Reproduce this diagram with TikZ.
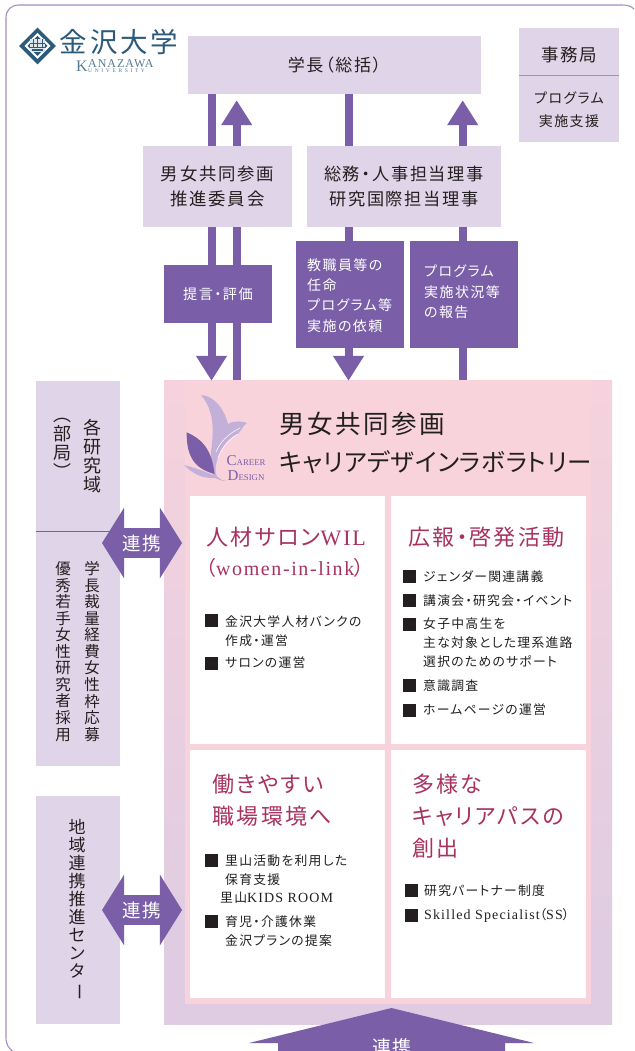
\documentclass[tikz,border=0pt]{standalone}
\usepackage{fontspec}
\usetikzlibrary{arrows.meta,shapes.arrows,shapes.geometric}
\newfontfamily\jp{Noto Sans CJK JP}[RawFeature=+palt]
\newfontfamily\jpt{Noto Sans CJK JP}[RawFeature=+palt,LetterSpace=2.5]
\newfontfamily\jpw{Noto Sans CJK JP}[RawFeature=+palt,LetterSpace=10]
\newfontfamily\jpv{Noto Sans CJK JP}
\newfontfamily\lat{Liberation Serif}
\newfontfamily\latw{Liberation Serif}[LetterSpace=8]
\newfontfamily\laty{Liberation Serif}[LetterSpace=48]
\definecolor{lav}{HTML}{E0D5E8}
\definecolor{labb}{HTML}{DFCCE2}
\definecolor{pnk}{HTML}{F8D3DC}
\definecolor{purp}{HTML}{7A5FA8}
\definecolor{frm}{HTML}{A48CC6}
\definecolor{ink}{HTML}{231F20}
\definecolor{hd}{HTML}{A8325F}
\definecolor{navy}{HTML}{2C5A7A}
\definecolor{lite}{HTML}{C2B0D8}
\pgfdeclareverticalshading{labshade}{100bp}{color(0bp)=(labb); color(30bp)=(labb); color(80bp)=(pnk); color(100bp)=(pnk)}
\pgfdeclarelayer{back}\pgfdeclarelayer{links}\pgfsetlayers{back,links,main}
\newcounter{tc}
\newcommand\tn[4][]{\stepcounter{tc}\node[item,#1] (t\thetc) at (#2,#3) {#4};}
\newcommand\bul[2]{\stepcounter{tc}\node[bulbox] (t\thetc) at (#1,#2) {};}
\newcommand\dn{\rotatebox[origin=c]{-90}{ー}}
\newcommand\ltn[1]{{\latw\fontsize{14}{19}\selectfont #1}}
\tikzset{
 x=1pt,y=-1pt,
 box/.style={fill=lav,inner sep=0,text=ink,align=center},
 darkbox/.style={fill=purp,inner sep=0,text=white,align=center},
 whitebox/.style={fill=white,inner sep=0},
 item/.style={anchor=west,inner sep=0,text=ink,align=left},
 small/.style={font=\jpw\fontsize{12.8}{19}\selectfont},
 head/.style={text=hd,font=\jpw\fontsize{22}{32}\selectfont},
 vert/.style={anchor=center,inner sep=0,text=ink,align=center},
 bulbox/.style={fill=ink,inner sep=0,minimum size=13pt},
 arr/.style={line width=8pt,draw=purp,-{Triangle[width=29.4pt,length=25pt]}},
 dbl/.style={double arrow,fill=purp,text=white,inner sep=0,minimum height=80pt,minimum width=71pt,
   double arrow head extend=12pt,double arrow tip angle=116,font=\jpw\fontsize{18.5}{20}\selectfont},
}
\begin{document}
\begin{tikzpicture}
\useasboundingbox (0,0) rectangle (634,1051);
\begin{pgfonlayer}{back}
\fill[white] (0,0) rectangle (634,1051);
\node[shading=labshade,inner sep=0,minimum width=448pt,minimum height=644pt] (lab) at (388,702) {};
\node[fill=pnk,inner sep=0,minimum width=406pt,minimum height=624pt] (panel) at (388,692) {};
\end{pgfonlayer}
% frame
\draw[frm,line width=1.1pt] (14,1052) .. controls (9,1049) and (6,1045) .. (6,1037) -- (6,18)
  .. controls (6,10) and (11,5) .. (19,5) -- (622,5) .. controls (627,5) and (631,6) .. (634,9);
% logo
\node[diamond,fill=navy,inner sep=0,minimum size=37pt] (emblem) at (37.5,46) {};
\fill[white] (37.5,33) -- (50.5,46) -- (37.5,59) -- (24.5,46) -- cycle;
\fill[navy] (37.5,36) -- (47.5,46) -- (37.5,56) -- (27.5,46) -- cycle;
\fill[white!85!navy] (30,39.5) rectangle (45,52.5);
\draw[navy,line width=.8pt] (33,39.5) -- (33,47) (37.5,39.5) -- (37.5,47) (42,39.5) -- (42,47) (30,43) -- (45,43) (30,47) -- (45,47);
\fill[navy] (32,49) rectangle (43,51);
\node[inner sep=0,text=navy,font=\jpw\fontsize{27.5}{28}\selectfont] (uname) at (119,42) {金沢大学};
\node[inner sep=0,text=navy!80,anchor=west,font=\lat\fontsize{16}{16}\selectfont] (uk) at (76,66) {K};
\node[inner sep=0,text=navy!80,anchor=west,font=\latw\fontsize{12}{12}\selectfont] (ua) at (88,64) {ANAZAWA};
\node[inner sep=0,text=navy!80,anchor=west,font=\laty\fontsize{5.5}{6}\selectfont] (uu) at (88,71) {UNIVERSITY};
% main boxes
\node[box,minimum width=293pt,minimum height=58pt,font=\jpw\fontsize{17}{20}\selectfont] (pres) at (334.5,65) {学長（総括）};
\node[box,minimum width=100pt,minimum height=114pt] (office) at (569,85) {};
\draw[frm,line width=1pt] (office.west |- 0,76) -- (office.east |- 0,76);
\node[inner sep=0,text=ink,font=\jpw\fontsize{17.5}{20}\selectfont] (office1) at (569,55) {事務局};
\node[inner sep=0,text=ink,align=center,font=\jpw\fontsize{14}{23}\selectfont] (office2) at (569,109.5) {プログラム\\実施支援};
\node[box,minimum width=149pt,minimum height=81pt,font=\jpw\fontsize{17.4}{25}\selectfont] (comm) at (217.5,186.5) {男女共同参画\\推進委員会};
\node[box,minimum width=194pt,minimum height=81pt,font=\jpw\fontsize{17.2}{25}\selectfont] (dirs) at (404,186.5) {総務・人事担当理事\\研究国際担当理事};
\node[darkbox,minimum width=108pt,minimum height=58pt,font=\jpw\fontsize{14.2}{20}\selectfont] (eval) at (218,294) {提言・評価};
\node[darkbox,minimum width=108pt,minimum height=107pt] (req) at (350,294.5) {};
\node[darkbox,minimum width=108pt,minimum height=107pt] (rep) at (464,294.5) {};
\node[anchor=west,inner sep=0,text=white,align=left,font=\jpw\fontsize{14}{20.2}\selectfont] (reqt) at (307,295.5) {教職員等の\\任命\\プログラム等\\実施の依頼};
\node[anchor=west,inner sep=0,text=white,align=left,font=\jpw\fontsize{14}{20.3}\selectfont] (rept) at (424,292) {プログラム\\実施状況等\\の報告};
% connectors
\coordinate (xa) at (211.5,0);
\coordinate (xb) at (236.7,0);
\coordinate (xc) at (348.5,0);
\coordinate (xd) at (462.7,0);
\begin{pgfonlayer}{links}
\draw[arr,shorten >=-1pt] (pres.south -| xa) -- (lab.north -| xa);
\draw[arr,shorten >=6pt] (lab.north -| xb) -- (pres.south -| xb);
\draw[arr,shorten >=-1pt] (pres.south -| xc) -- (lab.north -| xc);
\draw[arr,shorten >=6pt] (lab.north -| xd) -- (pres.south -| xd);
\end{pgfonlayer}
% career design logo
\fill[lite] (201,395) .. controls (214,396) and (224,408) .. (228,424) .. controls (230,422) and (240,420) .. (247,423)
  .. controls (240,428) and (243,432) .. (233,437) .. controls (226,441) and (218,452) .. (216,465)
  .. controls (214,476) and (218,480) .. (227,481) .. controls (216,481) and (210,476) .. (210,462)
  .. controls (212,440) and (218,415) .. (201,395) -- cycle;
\fill[lite] (184,465) .. controls (195,468) and (205,471) .. (219,478) .. controls (205,479) and (195,476) .. (184,465) -- cycle;
\fill[purp] (186.7,432.3) .. controls (200,438) and (212,448) .. (214.5,474) .. controls (200,470) and (186,462) .. (186.7,432.3) -- cycle;
\draw[white,line width=.5pt] (216,452) .. controls (220,442) and (228,434) .. (240,428) (218,458) .. controls (222,447) and (230,438) .. (238,434);
\node[inner sep=0,anchor=west,text=purp,font=\lat\fontsize{8.8}{10}\selectfont] (cd1) at (226.5,460.5) {{\fontsize{15}{15}\selectfont C}AREER};
\node[inner sep=0,anchor=west,text=purp,font=\lat\fontsize{8.8}{10}\selectfont] (cd2) at (227.5,476) {{\fontsize{15}{15}\selectfont D}ESIGN};
% lab title
\node[item,font=\jpw\fontsize{25.5}{38}\selectfont] (title1) at (279,424) {男女共同参画};
\node[item,font=\jpt\fontsize{24.5}{38}\selectfont] (title2) at (279,462) {キャリアデザインラボラトリー};
% white panels
\node[whitebox,minimum width=195pt,minimum height=248pt] (p1) at (287.5,620) {};
\node[whitebox,minimum width=195.5pt,minimum height=248pt] (p2) at (488.25,620) {};
\node[whitebox,minimum width=195pt,minimum height=248pt] (p3) at (287.5,874) {};
\node[whitebox,minimum width=195.5pt,minimum height=248pt] (p4) at (488.25,874) {};
% panel 1
\tn[head]{206}{537}{人材サロン{\latw WIL}}
\tn[head,font=\latw\fontsize{20}{24}\selectfont]{206}{568}{{\jp（}women-in-link{\jp）}}
\bul{211.5}{620.7}\tn[small]{225}{630.7}{金沢大学人材バンクの\\作成・運営}
\bul{211.5}{663}\tn[small]{225}{663}{サロンの運営}
% panel 2
\tn[head]{408}{537}{広報・啓発活動}
\bul{409.5}{576.7}\tn[small]{423}{576.7}{ジェンダー関連講義}
\bul{409.5}{600.7}\tn[small]{423}{600.7}{講演会・研究会・イベント}
\bul{409.5}{624}\tn[small]{423}{643}{女子中高生を\\主な対象とした理系進路\\選択のためのサポート}
\bul{409.5}{685.7}\tn[small]{423}{685.7}{意識調査}
\bul{409.5}{710}\tn[small]{423}{710}{ホームページの運営}
% panel 3
\tn[head]{212.5}{800}{働きやすい\\職場環境へ}
\bul{211.5}{860.7}\tn[small]{225}{870}{里山活動を利用した\\保育支援}
\tn[small]{220}{898}{里山\ltn{KIDS ROOM}}
\bul{211.5}{921.7}\tn[small]{225}{931.3}{育児・介護休業\\金沢プランの提案}
% panel 4
\tn[head]{412}{816}{多様な\\キャリアパスの\\創出}
\bul{411.5}{890.7}\tn[small]{424}{890.7}{研究パートナー制度}
\bul{411.5}{915}\tn[small]{424}{915}{\ltn{Skilled Specialist}（\ltn{SS}）}
% left boxes
\node[box,minimum width=84pt,minimum height=385pt] (dept) at (78,573.5) {};
\draw[purp,line width=.8pt] (dept.west |- 0,531.5) -- (115,531.5);
\node[box,minimum width=84pt,minimum height=228pt] (centre) at (78,910) {};
\node[vert,font=\jpv\fontsize{18}{19}\selectfont] (v1) at (92,456.5) {各\\研\\究\\域};
\node[vert,font=\jpv\fontsize{18}{19}\selectfont] (v2) at (62,448) {︵\\部\\局\\︶};
\node[vert,font=\jpv\fontsize{15.5}{16.55}\selectfont] (v3) at (92,651.5) {学\\長\\裁\\量\\経\\費\\女\\性\\枠\\応\\募};
\node[vert,font=\jpv\fontsize{15.5}{16.55}\selectfont] (v4) at (63,651.5) {優\\秀\\若\\手\\女\\性\\研\\究\\者\\採\\用};
\node[vert,font=\jpv\fontsize{17}{18}\selectfont] (v5) at (77,910) {地\\域\\連\\携\\推\\進\\セ\\ン\\タ\\\dn};
% double arrows
\node[dbl] (link1) at (142,543) {連携};
\node[dbl] (link2) at (142,910) {連携};
% bottom arrow
\coordinate (tip) at (391.5,1008);
\fill[purp] (tip) -- (534,1043) -- (505,1043) -- (505,1051) -- (278,1051) -- (278,1043) -- (249,1043) -- cycle;
\node[inner sep=0,text=white,font=\jpw\fontsize{19}{20}\selectfont] (link3) at (392,1047) {連携};
\end{tikzpicture}
\end{document}
